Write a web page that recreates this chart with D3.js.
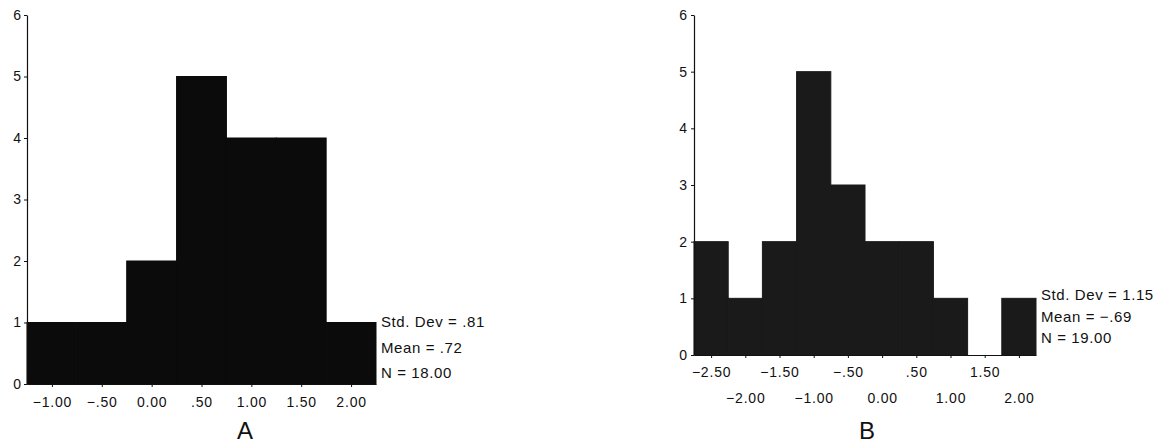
<!DOCTYPE html>
<html>
<head>
<meta charset="utf-8">
<script src="https://cdn.jsdelivr.net/npm/d3@7"></script>
<style>
  body { margin: 0; background: #fff; }
  svg { display: block; font-family: "Liberation Sans", Arial, sans-serif; }
  .tick text { font-size: 14px; letter-spacing: 0.8px; fill: #111; }
  .stat { font-size: 15px; letter-spacing: 0.6px; fill: #111; }
  .title { font-size: 24px; fill: #111; }
</style>
</head>
<body>
<svg width="1170" height="445"></svg>
<script>
// histogram A
const binsA = [-1.0, -0.5, 0.0, 0.5, 1.0, 1.5, 2.0];
const countsA = [1, 1, 2, 5, 4, 4, 1];
const labelsA = ['−1.00', '−.50', '0.00', '.50', '1.00', '1.50', '2.00'];
const statsA = ['Std. Dev = .81', 'Mean = .72', 'N = 18.00'];

// histogram B
const binsB = [-2.5, -2.0, -1.5, -1.0, -0.5, 0.0, 0.5, 1.0, 1.5, 2.0];
const countsB = [2, 1, 2, 5, 3, 2, 2, 1, 0, 1];
const labelsB = ['−2.50', '−2.00', '−1.50', '−1.00', '−.50', '0.00', '.50', '1.00', '1.50', '2.00'];
const statsB = ['Std. Dev = 1.15', 'Mean = −.69', 'N = 19.00'];

const yTicks = [0, 1, 2, 3, 4, 5, 6];
const binWidth = 0.5;

const svg = d3.select('svg');

const drawHist = (opts) => {
    const g = svg.append('g');
    const x = d3.scaleLinear()
        .domain([opts.bins[0] - binWidth / 2, opts.bins[opts.bins.length - 1] + binWidth / 2])
        .range([opts.left, opts.right]);
    const y = d3.scaleLinear().domain([0, 6]).range([opts.bottom, opts.top]);

    // bars
    g.selectAll('rect.bar')
        .data(opts.bins.map((b, i) => ({ b: b, n: opts.counts[i] })))
        .enter().append('rect')
        .attr('class', 'bar')
        .attr('x', d => x(d.b - binWidth / 2))
        .attr('width', d => x(d.b + binWidth / 2) - x(d.b - binWidth / 2))
        .attr('y', d => y(d.n))
        .attr('height', d => y(0) - y(d.n))
        .style('fill', opts.fill)
        .style('stroke', opts.fill)
        .style('stroke-width', d => d.n > 0 ? 1 : 0);

    // y axis
    const yAxis = g.append('g')
        .attr('transform', 'translate(' + opts.left + ',0)')
        .call(d3.axisLeft(y).tickValues(yTicks).tickFormat(d3.format('d')).tickSize(3).tickSizeOuter(0));
    yAxis.selectAll('text').attr('x', -opts.ylabelGap).style('letter-spacing', '0px');

    // x axis
    const xAxis = g.append('g')
        .attr('transform', 'translate(0,' + opts.bottom + ')')
        .call(d3.axisBottom(x).tickValues(opts.bins).tickFormat((d, i) => opts.labels[i])
            .tickSize(3).tickSizeOuter(0));
    xAxis.selectAll('text').attr('y', (d, i) => opts.stagger && i % 2 == 1 ? opts.row2 : opts.row1)
        .attr('dy', '0.35em');
    g.selectAll('.domain').attr('stroke', '#111').attr('stroke-width', 1.2);
    g.selectAll('.tick line').attr('stroke', '#111');

    // stats block
    g.selectAll('text.stat')
        .data(opts.stats)
        .enter().append('text')
        .attr('class', 'stat')
        .attr('x', opts.right + 5)
        .attr('y', (d, i) => opts.statTop + i * opts.statGap)
        .attr('dy', '0.35em')
        .text(d => d);

    g.append('text')
        .attr('class', 'title')
        .attr('x', opts.titleX)
        .attr('y', 431)
        .attr('dy', '0.35em')
        .attr('text-anchor', 'middle')
        .text(opts.title);
};

drawHist({
    bins: binsA, counts: countsA, labels: labelsA, stats: statsA,
    left: 27, right: 376, top: 15, bottom: 384,
    fill: '#0b0b0b', ylabelGap: 6, stagger: false, row1: 18,
    statTop: 322, statGap: 25.5, titleX: 245, title: 'A'
});

drawHist({
    bins: binsB, counts: countsB, labels: labelsB, stats: statsB,
    left: 694, right: 1036, top: 15, bottom: 355,
    fill: '#1a1a1a', ylabelGap: 7, stagger: true, row1: 17, row2: 43,
    statTop: 295, statGap: 21.5, titleX: 867, title: 'B'
});
</script>
</body>
</html>
